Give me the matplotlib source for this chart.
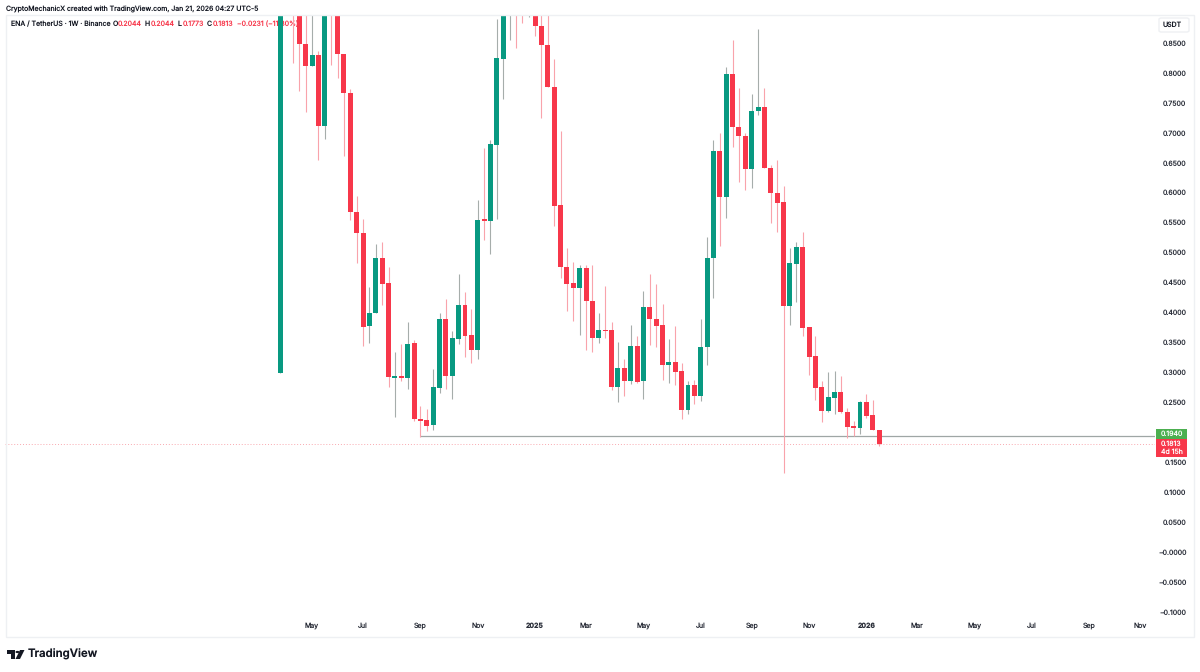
"""ENA / TetherUS weekly candles, TradingView style."""

import matplotlib
matplotlib.use("Agg")
from matplotlib import pyplot as plt
from matplotlib.patches import FancyBboxPatch, Polygon, Rectangle, Circle
import numpy as np

W, H = 1200, 672

# weekly candles, first one is Apr 2024 (values above 0.897 are off the chart, guessed)
opens = [0.299, 0.98, 1.05, 0.95, 0.848, 0.812, 0.830, 0.712, 1.00, 0.92,
         0.831, 0.766, 0.568, 0.533, 0.378, 0.399, 0.491, 0.449, 0.291, 0.294,
         0.291, 0.349, 0.223, 0.221, 0.212, 0.274, 0.389, 0.294, 0.356, 0.413,
         0.362, 0.337, 0.556, 0.553, 0.680, 0.823, 0.95, 1.05, 1.00, 0.95,
         1.00, 0.878, 0.846, 0.776, 0.579, 0.476, 0.449, 0.441, 0.475, 0.420,
         0.358, 0.370, 0.370, 0.276, 0.307, 0.285, 0.344, 0.285, 0.409, 0.390,
         0.379, 0.312, 0.317, 0.302, 0.237, 0.279, 0.261, 0.343, 0.491, 0.670,
         0.593, 0.798, 0.709, 0.695, 0.639, 0.737, 0.743, 0.641, 0.600, 0.584,
         0.411, 0.481, 0.509, 0.375, 0.327, 0.275, 0.236, 0.258, 0.267, 0.234,
         0.211, 0.207, 0.251, 0.229, 0.2044]
highs = [1.00, 1.10, 1.20, 1.00, 0.98, 0.93, 0.836, 0.97, 1.05, 0.96,
         0.831, 0.773, 0.595, 0.556, 0.443, 0.514, 0.517, 0.476, 0.334, 0.347,
         0.384, 0.354, 0.244, 0.239, 0.305, 0.399, 0.423, 0.369, 0.464, 0.434,
         0.406, 0.588, 0.675, 0.688, 0.890, 1.00, 1.10, 1.20, 1.10, 1.10,
         1.05, 0.95, 0.92, 0.823, 0.703, 0.507, 0.484, 0.479, 0.479, 0.480,
         0.400, 0.445, 0.384, 0.350, 0.322, 0.380, 0.360, 0.436, 0.464, 0.447,
         0.414, 0.356, 0.378, 0.316, 0.286, 0.287, 0.390, 0.526, 0.688, 0.700,
         0.810, 0.855, 0.774, 0.699, 0.765, 0.873, 0.775, 0.646, 0.655, 0.611,
         0.507, 0.518, 0.534, 0.376, 0.360, 0.285, 0.301, 0.303, 0.294, 0.241,
         0.219, 0.252, 0.264, 0.254, 0.2044]
lows = [0.299, 0.92, 0.817, 0.770, 0.735, 0.812, 0.654, 0.690, 0.813, 0.791,
        0.661, 0.555, 0.483, 0.344, 0.349, 0.399, 0.413, 0.276, 0.226, 0.286,
        0.272, 0.219, 0.193, 0.202, 0.204, 0.266, 0.273, 0.256, 0.347, 0.325,
        0.316, 0.322, 0.521, 0.497, 0.556, 0.756, 0.855, 0.841, 0.883, 0.894,
        0.862, 0.724, 0.776, 0.545, 0.458, 0.403, 0.386, 0.363, 0.338, 0.334,
        0.349, 0.358, 0.271, 0.250, 0.261, 0.280, 0.282, 0.256, 0.346, 0.342,
        0.287, 0.282, 0.279, 0.222, 0.231, 0.248, 0.252, 0.313, 0.425, 0.511,
        0.557, 0.677, 0.618, 0.605, 0.608, 0.730, 0.641, 0.550, 0.535, 0.132,
        0.379, 0.418, 0.361, 0.296, 0.254, 0.218, 0.234, 0.231, 0.232, 0.191,
        0.194, 0.197, 0.224, 0.204, 0.1773]
closes = [0.98, 1.05, 0.95, 0.849, 0.812, 0.830, 0.712, 0.93, 0.92, 0.831,
          0.766, 0.568, 0.532, 0.376, 0.399, 0.491, 0.448, 0.292, 0.294, 0.291,
          0.348, 0.222, 0.219, 0.211, 0.275, 0.389, 0.294, 0.357, 0.413, 0.361,
          0.337, 0.555, 0.553, 0.681, 0.825, 0.95, 1.05, 1.00, 0.95, 1.00,
          0.878, 0.846, 0.776, 0.578, 0.476, 0.448, 0.441, 0.475, 0.419, 0.358,
          0.370, 0.369, 0.275, 0.307, 0.286, 0.344, 0.284, 0.409, 0.389, 0.378,
          0.312, 0.317, 0.301, 0.237, 0.279, 0.261, 0.343, 0.491, 0.670, 0.593,
          0.798, 0.709, 0.694, 0.639, 0.737, 0.743, 0.641, 0.600, 0.583, 0.411,
          0.482, 0.509, 0.374, 0.326, 0.274, 0.236, 0.259, 0.267, 0.234, 0.209,
          0.207, 0.251, 0.228, 0.204, 0.1813]

month_weeks = [5, 13, 22, 31, 40, 48, 57, 66, 74, 83, 92, 100, 109, 118, 127, 135]
month_labels = ["May", "Jul", "Sep", "Nov", "2025", "Mar", "May", "Jul", "Sep",
                "Nov", "2026", "Mar", "May", "Jul", "Sep", "Nov"]
bold_labels = ["2025", "2026"]

# 0.2000 sits under the price tags, so it is left out
price_ticks = [0.85, 0.80, 0.75, 0.70, 0.65, 0.60, 0.55, 0.50, 0.45, 0.40, 0.35,
               0.30, 0.25, 0.15, 0.10, 0.05, 0.0, -0.05, -0.10]
price_labels = ["0.8500", "0.8000", "0.7500", "0.7000", "0.6500", "0.6000", "0.5500",
                "0.5000", "0.4500", "0.4000", "0.3500", "0.3000", "0.2500",
                "0.1500", "0.1000", "0.0500", "\u22120.0000", "\u22120.0500", "\u22120.1000"]

support_start = 22
support_price = 0.1935
last_price = 0.1813

UP = "#089981"
DOWN = "#f7374a"
UP_WICK = "#a6adab"
DOWN_WICK = "#f9a3ab"
TEXT = "#131722"
AXIS_TEXT = "#2a2e39"
FRAME = "#eef0f3"
SMALL = 5.0

plt.rcParams["font.family"] = ["Inter", "DejaVu Sans"]
plt.rcParams["text.hinting"] = "no_hinting"
plt.rcParams["text.hinting_factor"] = 1


def px(x, y):
    # pixel position from top-left to figure fraction
    return x / W, 1 - y / H


fig = plt.figure(figsize=(W / 100, H / 100), dpi=100, facecolor="white")

# plot pane spans 5..1155 px wide, 15..637 px tall
ax = fig.add_axes([5 / W, 1 - 637 / H, 1150 / W, 622 / H])
ax.set_xlim(-43.2, 137.3)
ax.set_ylim(-0.1417, 0.8967)
for spine in ax.spines.values():
    spine.set_visible(False)

fig.add_artist(Rectangle(px(5.5, 637), 1188.5 / W, 622 / H, fill=False,
                         edgecolor=FRAME, linewidth=1, transform=fig.transFigure))

o = np.array(opens)
c = np.array(closes)
weeks = np.arange(len(o))
is_up = c >= o

ax.vlines(weeks[is_up], np.array(lows)[is_up], np.array(highs)[is_up],
          color=UP_WICK, linewidth=0.8, zorder=3)
ax.vlines(weeks[~is_up], np.array(lows)[~is_up], np.array(highs)[~is_up],
          color=DOWN_WICK, linewidth=0.8, zorder=3)
ax.bar(weeks[is_up], (c - o)[is_up], bottom=o[is_up], width=0.78, color=UP,
       linewidth=0, zorder=4)
ax.bar(weeks[~is_up], (o - c)[~is_up], bottom=c[~is_up], width=0.78, color=DOWN,
       linewidth=0, zorder=4)

ax.hlines(support_price, support_start, 137.3, color="#9fa6a5", linewidth=0.9, zorder=2)
ax.axhline(last_price, color="#f9a9b0", linewidth=0.7, linestyle=(0, (1, 2)), zorder=2)

ax.set_xticks(month_weeks)
ax.set_xticklabels(month_labels)
for label in ax.get_xticklabels():
    if label.get_text() in bold_labels:
        label.set_fontweight("bold")
ax.tick_params(axis="x", length=0, pad=-10.5, labelsize=SMALL, labelcolor=AXIS_TEXT)
ax.yaxis.tick_right()
ax.set_yticks(price_ticks)
ax.set_yticklabels(price_labels)
ax.tick_params(axis="y", length=0, pad=31.5 * 0.72, labelsize=SMALL, labelcolor=AXIS_TEXT)
for label in ax.get_yticklabels():
    label.set_horizontalalignment("right")

# price tags on the right scale
fig.add_artist(Rectangle(px(1155.7, 438.7), 31.6 / W, 9.7 / H, color="#4caf50", linewidth=0,
                         transform=fig.transFigure))
fig.add_artist(Rectangle(px(1155.7, 457.3), 31.6 / W, 18.6 / H, color=DOWN, linewidth=0,
                         transform=fig.transFigure))
fig.text(*px(1171.5, 434), "0.1940", fontsize=SMALL, color="white", ha="center", va="center", zorder=7)
fig.text(*px(1171.5, 443.5), "0.1813", fontsize=SMALL, color="white", ha="center", va="center", zorder=7)
fig.text(*px(1171.5, 452), "4d 15h", fontsize=SMALL, color="white", ha="center", va="center", zorder=7)

# USDT box
fig.add_artist(FancyBboxPatch(px(1159, 32), 30 / W, 14 / H,
                              boxstyle="round,pad=0,rounding_size=0.002",
                              facecolor="white", edgecolor=FRAME, linewidth=1,
                              transform=fig.transFigure))
fig.text(*px(1172, 25), "USDT", fontsize=SMALL, color=TEXT, ha="center", va="center", zorder=7)

# header lines
fig.text(*px(6, 9), "CryptoMechanicX created with TradingView.com, Jan 21, 2026 04:27 UTC-5",
         fontsize=SMALL, color=TEXT, ha="left", va="center")
header = [(10.7, "ENA / TetherUS \u00b7 1W \u00b7 Binance", TEXT),
          (112.7, "O", TEXT), (118, "0.2044", DOWN),
          (145, "H", TEXT), (150.3, "0.2044", DOWN),
          (177.7, "L", TEXT), (182.3, "0.1773", DOWN),
          (207, "C", TEXT), (212.3, "0.1813", DOWN),
          (237, "\u22120.0231 (\u221211.30%)", DOWN)]
for x, s, col in header:
    ax.text(x / W, 1 - 24 / H, s, transform=fig.transFigure, fontsize=SMALL, color=col,
            ha="left", va="center", zorder=1, clip_on=False)

# TradingView logo
fig.add_artist(Polygon([px(7, 650), px(15, 650), px(15, 659), px(11, 659), px(11, 654), px(7, 654)],
                       closed=True, color=TEXT, linewidth=0, transform=fig.transFigure))
fig.add_artist(Circle(px(17.5, 652), 0.0017, color=TEXT, linewidth=0, transform=fig.transFigure))
fig.add_artist(Polygon([px(20, 650), px(24.5, 650), px(20, 659), px(15.5, 659)],
                       closed=True, color=TEXT, linewidth=0, transform=fig.transFigure))
fig.text(*px(28, 654.5), "TradingView", fontsize=8.2, fontweight="semibold", color=TEXT,
         ha="left", va="center")

fig.savefig("out.png", dpi=100)
